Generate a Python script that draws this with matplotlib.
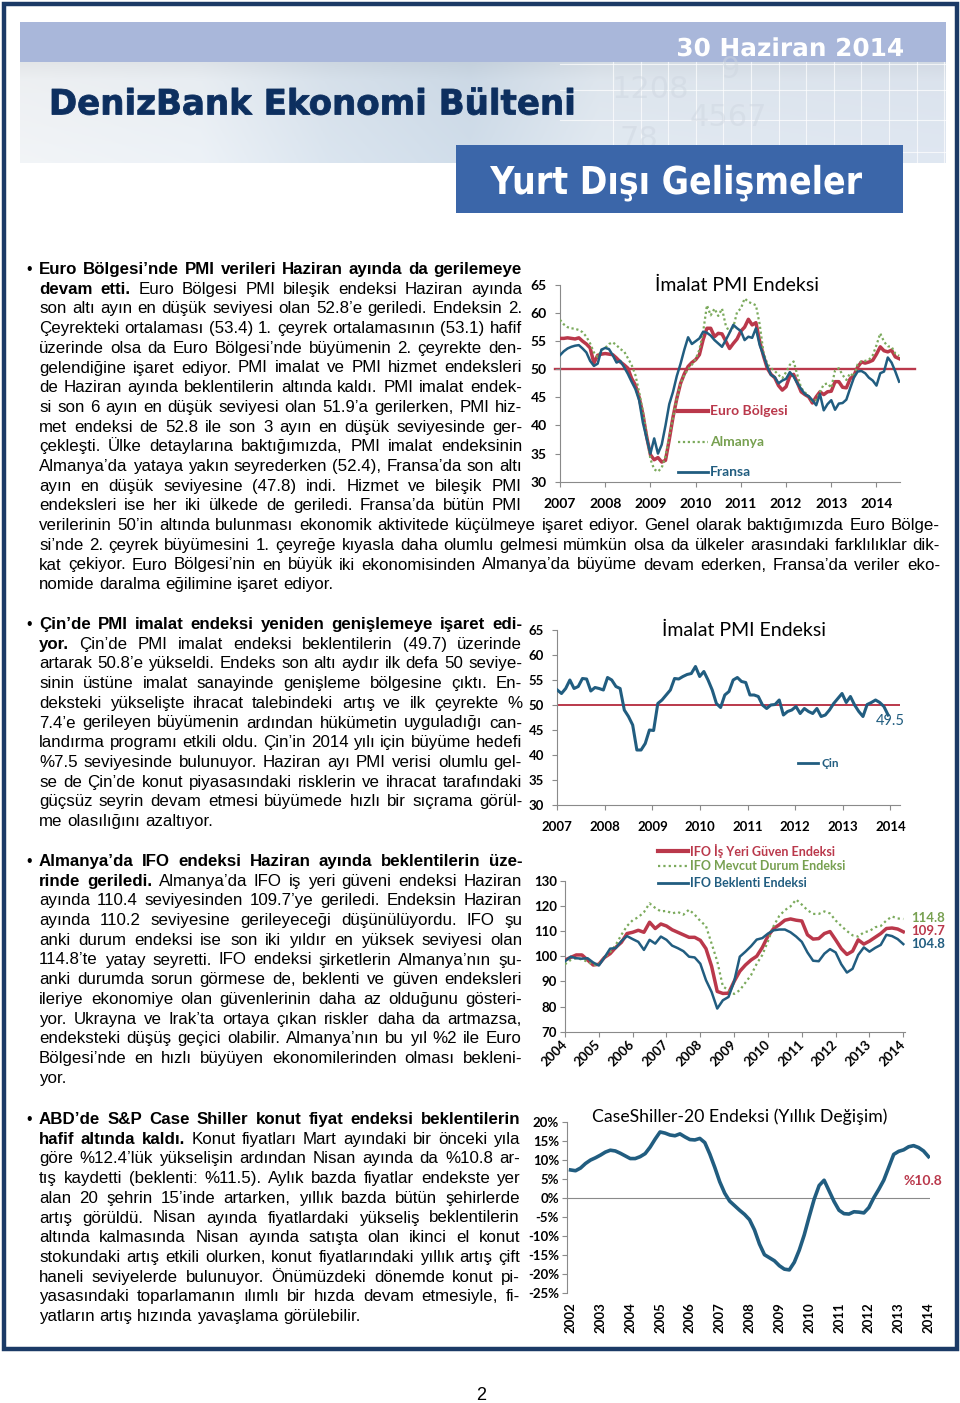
import matplotlib
matplotlib.use('Agg')
import matplotlib.pyplot as plt
import numpy as np
from matplotlib.font_manager import FontProperties
from matplotlib.textpath import TextPath
from matplotlib.patches import PathPatch, Rectangle
from matplotlib.transforms import Affine2D

# =============================================================================
# page geometry
# =============================================================================
W, H, DPI = 960, 1403, 100
BODY = 'Liberation Sans'
CHART = 'Lato'
BODY_PT = 12.2

RED = '#BA384B'
BLUE = '#215D80'
GREEN = '#7BAA5C'
NAVY = '#1B3A66'

# =============================================================================
# chart data
# =============================================================================
PMI_YEARS = list(range(2007, 2015))
PMI_EURO = [
    55.5, 55.5, 55.6, 55.5, 55.4, 55.6, 55.0, 54.5, 53.8, 51.1, 52.5, 52.7,
    52.8, 52.7, 52.6, 52.0, 51.3, 50.8, 50.2, 48.4, 47.2, 45.0, 42.0, 38.0,
    34.8, 33.9, 34.3, 33.5, 33.8, 37.5, 41.5, 44.8, 47.5, 49.2, 50.5, 51.2,
    51.7, 52.6, 55.3, 57.3, 57.3, 55.8, 56.4, 56.3, 55.0, 53.7, 54.6, 55.4,
    56.8, 57.5, 58.9, 57.9, 58.3, 55.0, 52.4, 50.2, 49.1, 48.5, 47.1, 46.3,
    46.9, 48.8, 49.1, 47.6, 46.0, 45.5, 45.1, 44.0, 45.1, 46.0, 45.5, 46.0,
    46.1, 47.8, 47.8, 46.8, 46.7, 48.3, 48.9, 50.4, 51.3, 51.1, 51.3, 51.6,
    52.7, 54.0, 53.3, 53.1, 53.4, 52.2, 51.9,
]
PMI_GERMANY = [
    58.8, 58.0, 57.5, 57.3, 57.2, 57.0, 56.6, 55.8, 54.6, 53.0, 52.2, 53.4,
    53.8, 54.5, 54.8, 54.3, 53.6, 53.2, 52.0, 50.8, 49.0, 46.0, 42.5, 38.5,
    34.0, 32.2, 31.8, 32.5, 34.5, 38.0, 41.5, 44.8, 47.5, 49.0, 50.0, 50.8,
    51.8, 53.5, 56.7, 61.4, 59.6, 60.8, 59.5, 60.8, 57.8, 56.6, 57.5, 60.2,
    60.8, 62.6, 62.0, 61.7, 61.4, 58.0, 53.0, 51.0, 50.2, 49.7, 49.0, 48.4,
    49.5, 50.8, 51.4, 49.0, 46.7, 45.9, 45.2, 44.3, 44.6, 46.0, 47.3, 47.5,
    46.7, 49.8, 50.2, 49.0, 48.1, 49.3, 48.7, 50.9, 51.4, 51.5, 51.7, 52.5,
    54.3, 56.4, 54.9, 54.1, 54.0, 52.8, 52.4,
]
PMI_FRANCE = [
    52.5, 53.2, 53.7, 54.0, 54.2, 54.3, 53.7, 53.0, 51.5, 50.6, 51.0, 53.5,
    53.8, 53.6, 52.5, 51.2, 51.5, 50.4, 49.2, 47.8, 46.5, 44.5, 40.5, 37.7,
    35.0, 37.7, 35.0, 36.6, 40.0, 43.8, 46.0, 48.8, 51.0, 53.5, 55.7, 54.5,
    55.0, 55.5, 56.7, 56.5, 56.0, 55.2, 54.6, 54.0, 55.2, 56.5, 57.9, 57.3,
    56.8, 55.2, 55.8, 55.6, 57.3, 54.3, 52.5, 50.5, 49.0, 48.6, 47.5, 48.0,
    48.3, 49.5, 48.7, 47.5, 46.5, 45.6, 45.2, 44.5, 43.6, 45.6, 42.7, 43.8,
    44.5, 42.8, 43.9, 44.0, 44.6, 46.6, 48.5, 49.6, 49.7, 49.3, 48.5, 48.0,
    47.1, 49.3, 49.6, 52.1, 51.2, 49.6, 47.8,
]
PMI_CHINA = [
    53.0, 52.3, 53.3, 55.0, 53.3, 53.7, 55.3, 55.2, 52.8, 53.5,
    53.3, 53.0, 55.5, 55.0, 53.7, 53.3, 49.0, 47.7, 46.0, 41.0,
    41.0, 42.3, 45.0, 44.9, 50.3, 51.0, 52.0, 53.0, 55.3, 55.2,
    55.7, 56.1, 56.3, 57.7, 55.7, 56.7, 55.0, 53.0, 50.3, 49.5,
    52.0, 52.7, 55.0, 55.5, 54.7, 54.5, 52.0, 52.0, 51.7, 50.0,
    49.3, 50.0, 50.1, 51.0, 48.0, 48.7, 49.0, 49.7, 48.3, 49.3,
    48.7, 48.3, 49.3, 47.7, 48.0, 49.0, 50.3, 51.3, 52.3, 50.5,
    51.7, 50.0, 48.7, 47.7, 50.1, 50.5, 51.0, 50.5, 49.7, 48.0,
]

IFO_YEARS = list(range(2004, 2015))
IFO_CLIMATE = [
    98.5, 99.5, 100.5, 100.5, 98.5, 96.5, 96.8, 99.5, 101.0, 103.5, 105.5,
    109.0, 109.5, 110.3, 109.5, 113.5, 111.0, 112.8, 112.0, 110.5, 109.5,
    108.5, 107.5, 107.5, 106.3, 103.0, 96.0, 86.0, 85.2, 85.3, 90.0,
    94.0, 96.5, 98.5, 100.0, 103.5, 108.0, 111.0, 112.5, 114.3, 114.8,
    114.3, 114.0, 108.5, 106.8, 107.0, 109.0, 109.8, 106.5, 103.0, 100.7,
    102.0, 106.5, 104.8, 106.0, 107.5, 109.0, 111.0, 111.2, 110.8, 109.7,
]
IFO_CURRENT = [
    96.8, 98.5, 99.2, 98.7, 97.8, 96.5, 96.8, 99.5, 101.5, 104.5, 108.5,
    112.0, 114.3, 115.5, 117.5, 121.0, 119.2, 117.8, 118.0, 117.0, 117.6,
    116.5, 118.5, 116.5, 114.0, 112.0, 105.0, 98.0, 88.0, 86.5, 85.0,
    86.5, 89.5, 92.5, 97.0, 100.5, 106.0, 112.0, 116.0, 118.3, 119.8,
    122.5, 120.5, 118.3, 116.8, 116.8, 117.8, 117.0, 114.2, 112.0, 110.0,
    108.3, 107.8, 109.5, 110.0, 111.5, 112.0, 114.2, 115.8, 115.0, 114.8,
]
IFO_EXPECT = [
    98.0, 99.8, 99.2, 99.0, 99.2, 97.5, 96.3, 99.5, 103.0, 103.2, 106.0,
    108.0, 106.8, 105.7, 102.5, 106.5, 105.0, 107.8, 106.5, 104.2, 103.2,
    102.0, 99.8, 99.5, 97.0, 90.5, 85.8, 79.2, 82.5, 83.8, 90.0,
    99.8, 101.8, 104.0, 106.6, 107.2, 109.0, 110.3, 110.6, 110.6, 109.5,
    107.8, 105.7, 101.5, 98.2, 98.0, 101.0, 102.8, 101.5, 96.8, 93.5,
    95.0, 100.5, 103.5, 101.8, 103.3, 104.5, 108.5, 108.0, 106.8, 104.8,
]
IFO_LAST = ['114.8', '109.7', '104.8']

CS_YEARS = list(range(2002, 2015))
CS_YOY = [
    7.3, 7.1, 7.8, 9.0, 9.9, 10.5, 11.2, 12.0, 12.5, 12.3, 11.7, 11.0,
    10.3, 10.3, 10.8, 11.6, 13.3, 15.4, 17.3, 17.0, 16.5, 16.3, 16.8, 16.0,
    15.3, 15.2, 15.6, 14.5, 11.5, 8.0, 4.2, 1.2, -0.9, -2.1, -3.3, -4.4,
    -5.8, -8.5, -12.2, -15.0, -15.8, -16.6, -17.9, -18.8, -19.0, -17.0, -13.8, -9.8,
    -5.0, -0.4, 3.2, 4.6, 1.8, -1.0, -3.3, -4.2, -4.3, -3.7, -3.8, -4.0,
    -2.6, 0.0, 2.2, 4.6, 8.0, 11.4, 12.2, 12.6, 13.4, 13.7, 13.2, 12.3,
    10.8,
]

# =============================================================================
# page texts
# =============================================================================
SEC1_BOLD = 10
SEC1 = [
    "Euro Bölgesi’nde PMI verileri Haziran ayında da gerilemeye",
    "devam etti.  Euro Bölgesi PMI bileşik endeksi Haziran ayında",
    "son altı ayın en düşük seviyesi olan 52.8’e geriledi. Endeksin 2.",
    "Çeyrekteki ortalaması (53.4) 1. çeyrek ortalamasının (53.1) hafif",
    "üzerinde olsa da Euro Bölgesi’nde büyümenin 2. çeyrekte den-",
    "gelendiğine işaret ediyor. PMI imalat ve PMI hizmet endeksleri",
    "de Haziran ayında beklentilerin altında kaldı. PMI imalat endek-",
    "si son 6 ayın en düşük seviyesi olan 51.9’a gerilerken, PMI hiz-",
    "met endeksi de 52.8 ile son 3 ayın en düşük seviyesinde ger-",
    "çekleşti. Ülke detaylarına baktığımızda, PMI imalat endeksinin",
    "Almanya’da yataya yakın seyrederken (52.4), Fransa’da son altı",
    "ayın en düşük seviyesine (47.8)  indi. Hizmet ve bileşik PMI",
    "endeksleri ise her iki ülkede de geriledi. Fransa’da bütün PMI",
    "verilerinin 50’in altında bulunması ekonomik aktivitede küçülmeye işaret ediyor. Genel olarak baktığımızda Euro Bölge-",
    "si’nde 2. çeyrek büyümesini 1. çeyreğe kıyasla daha olumlu gelmesi mümkün olsa da ülkeler arasındaki farklılıklar dik-",
    "kat çekiyor. Euro Bölgesi’nin en büyük iki ekonomisinden Almanya’da büyüme devam ederken, Fransa’da veriler eko-",
    "nomide daralma eğilimine işaret ediyor.",
]
SEC2_BOLD = 9
SEC2 = [
    "Çin’de PMI imalat endeksi yeniden genişlemeye işaret edi-",
    "yor. Çin’de PMI imalat endeksi beklentilerin (49.7) üzerinde",
    "artarak 50.8’e yükseldi. Endeks son altı aydır ilk defa 50 seviye-",
    "sinin üstüne imalat sanayinde genişleme bölgesine çıktı. En-",
    "deksteki yükselişte ihracat talebindeki artış ve ilk çeyrekte %",
    "7.4’e gerileyen büyümenin ardından hükümetin uyguladığı can-",
    "landırma programı etkili oldu. Çin’in 2014 yılı için büyüme hedefi",
    "%7.5 seviyesinde bulunuyor.  Haziran ayı PMI verisi olumlu gel-",
    "se de Çin’de konut piyasasındaki risklerin ve ihracat tarafındaki",
    "güçsüz seyrin devam etmesi büyümede hızlı bir sıçrama görül-",
    "me olasılığını azaltıyor.",
]
SEC3_BOLD = 9
SEC3 = [
    "Almanya’da IFO endeksi Haziran ayında beklentilerin üze-",
    "rinde geriledi.  Almanya’da IFO iş yeri güveni endeksi Haziran",
    "ayında 110.4 seviyesinden 109.7’ye geriledi.  Endeksin Haziran",
    "ayında 110.2 seviyesine gerileyeceği düşünülüyordu. IFO şu",
    "anki durum endeksi ise son iki yıldır en yüksek seviyesi olan",
    "114.8’te yatay seyretti. IFO endeksi şirketlerin Almanya’nın şu-",
    "anki durumda sorun görmese de, beklenti ve güven endeksleri",
    "ileriye ekonomiye olan güvenlerinin daha az olduğunu gösteri-",
    "yor. Ukrayna ve Irak’ta ortaya çıkan riskler daha da artmazsa,",
    "endeksteki düşüş geçici olabilir. Almanya’nın bu yıl %2 ile Euro",
    "Bölgesi’nde en hızlı büyüyen ekonomilerinden olması bekleni-",
    "yor.",
]
SEC4_BOLD = 11
SEC4 = [
    "ABD’de S&P Case Shiller konut fiyat endeksi beklentilerin",
    "hafif altında kaldı.  Konut fiyatları Mart ayındaki bir önceki yıla",
    "göre %12.4’lük yükselişin ardından Nisan ayında da %10.8 ar-",
    "tış kaydetti (beklenti: %11.5). Aylık bazda fiyatlar endekste yer",
    "alan 20 şehrin 15’inde artarken, yıllık bazda bütün şehirlerde",
    "artış görüldü. Nisan ayında fiyatlardaki yükseliş beklentilerin",
    "altında kalmasında Nisan ayında satışta olan ikinci el konut",
    "stokundaki artış etkili olurken, konut fiyatlarındaki yıllık artış çift",
    "haneli seviyelerde bulunuyor. Önümüzdeki dönemde konut pi-",
    "yasasındaki toparlamanın ılımlı bir hızda devam etmesiyle, fi-",
    "yatların artış hızında yavaşlama görülebilir.",
]

# =============================================================================
# figure
# =============================================================================
fig = plt.figure(figsize=(W / DPI, H / DPI), dpi=DPI)
page = fig.add_axes([0, 0, 1, 1])
page.axis('off')
renderer = fig.canvas.get_renderer()


def px_width(s, fp):
    return renderer.get_text_width_height_descent(s, fp, ismath=False)[0]


def fit_path(s, x0, x1, base, cap, color, family='DejaVu Sans', stroke=0.0):
    fp = FontProperties(family=family, weight='bold')
    tp = TextPath((0, 0), s, size=100, prop=fp)
    bb = tp.get_extents()
    hcap = TextPath((0, 0), 'H', size=100, prop=fp).get_extents().height
    tr = Affine2D().translate(-bb.x0, 0).scale((x1 - x0) / bb.width, -cap / hcap).translate(x0, base)
    page.add_patch(PathPatch(tr.transform_path(tp), fc=color, ec=color if stroke else 'none',
                             lw=stroke, zorder=5))


def paragraph(lines, n_bold, y0, narrow_right, wide_from=None, x0=39, step=19.7):
    page.text(29, y0 + 5, '•', fontproperties=FontProperties(family=BODY, size=BODY_PT - 1),
              ha='center', va='baseline')
    k = 0
    for j, line in enumerate(lines):
        words = line.split()
        bold = []
        for _ in words:
            bold.append(k < n_bold)
            k += 1
        right = narrow_right if (wide_from is None or j < wide_from) else 940
        last = j == len(lines) - 1
        size = BODY_PT
        while True:
            f_reg = FontProperties(family=BODY, size=size)
            f_bold = FontProperties(family=BODY, size=size, weight='bold')
            space = px_width('a a', f_reg) - px_width('aa', f_reg)
            props = [f_bold if b else f_reg for b in bold]
            widths = [px_width(w, p) for w, p in zip(words, props)]
            need = sum(widths) + 0.75 * space * (len(words) - 1)
            if last or need <= right - x0 or size < 9:
                break
            size -= 0.2
        if not last and len(words) > 1:
            gap = (right - x0 - sum(widths)) / (len(words) - 1)
        else:
            gap = space
        x = x0
        y = y0 + j * step + 5
        for w, p, wd in zip(words, props, widths):
            page.text(x, y, w, fontproperties=p, ha='left', va='baseline', color='black')
            x += wd + gap


def chart_axes(left, right, top, bottom):
    ax = fig.add_axes([left / W, 1 - bottom / H, (right - left) / W, (bottom - top) / H])
    ax.patch.set_alpha(0)
    for s in ['top', 'right']:
        ax.spines[s].set_visible(False)
    for s in ['left', 'bottom']:
        ax.spines[s].set_color('#8a8a8a')
        ax.spines[s].set_linewidth(0.8)
    ax.tick_params(direction='out', length=3.5, width=0.8, color='#8a8a8a')
    return ax


def tick_font(size):
    return FontProperties(family=CHART, weight='bold', size=size)


# ---------------------------------------------------------------- header
page.add_patch(Rectangle((20, 22), 926, 40, fc='#A9B7DA', ec='none', zorder=1))
hx = np.linspace(20, 946, 480)
hy = np.linspace(62, 163, 60)
stops = [20, 200, 330, 470, 600, 946]
cols = np.array([[0.93, 0.94, 0.95], [0.91, 0.93, 0.95], [0.84, 0.88, 0.92],
                 [0.80, 0.85, 0.90], [0.87, 0.90, 0.93], [0.86, 0.89, 0.93]])
base = np.stack([np.interp(hx, stops, cols[:, c]) for c in range(3)], axis=-1)
shade = np.interp(hy, [62, 80, 163], [0.96, 1.0, 1.02])
img = np.clip(base[None, :, :] * shade[:, None, None], 0, 1)
page.imshow(img, extent=(20, 946, 163, 62), aspect='auto', zorder=0)
for gx in np.arange(613, 946, 27.6):
    page.plot([gx, gx], [62, 163], color='white', lw=0.8, alpha=0.7, zorder=1)
for gy in [64, 90, 120, 152]:
    page.plot([560, 946], [gy, gy], color='white', lw=0.8, alpha=0.7, zorder=1)
for txt, tx, ty in [('1208', 612, 90), ('9', 720, 70), ('4567', 690, 118), ('78', 620, 140)]:
    page.text(tx, ty, txt, fontsize=22, color='#CDD5DF', alpha=0.45, zorder=1,
              va='center', family='DejaVu Sans')
page.add_patch(Rectangle((456, 145), 447, 68, fc='#3B66A9', ec='none', zorder=3))
fit_path('30 Haziran 2014', 678, 903, 56, 18, 'white')
fit_path('DenizBank Ekonomi Bülteni', 52, 573, 114.5, 25.5, '#0D2F5F', stroke=0.6)
fit_path('Yurt Dışı Gelişmeler', 490, 862, 194, 28, 'white')

# ---------------------------------------------------------------- frame
page.add_patch(Rectangle((3.5, 3.5), 953, 1345, fc='none', ec=NAVY, lw=3.2, zorder=6))
page.text(481, 1395, '2', fontproperties=FontProperties(family=BODY, size=13), ha='center', va='center')

# ---------------------------------------------------------------- body text
paragraph(SEC1, SEC1_BOLD, 269, 522, wide_from=13)
paragraph(SEC2, SEC2_BOLD, 624, 522)
paragraph(SEC3, SEC3_BOLD, 861, 522)
paragraph(SEC4, SEC4_BOLD, 1119, 520)

# ---------------------------------------------------------------- chart 1
ax1 = chart_axes(560, 900, 285, 481.7)
t1 = [2007 + i / 12 for i in range(len(PMI_EURO))]
ax1.axhline(50, xmin=-0.015, xmax=1.045, color=RED, lw=1.7, clip_on=False, zorder=1)
ax1.plot(t1, PMI_EURO, color=RED, lw=2.5, zorder=3)
ax1.plot(t1, PMI_GERMANY, color=GREEN, lw=1.6, ls=(0, (1, 1.2)), zorder=4)
ax1.plot(t1, PMI_FRANCE, color=BLUE, lw=1.8, zorder=5)
ax1.set_xlim(2007, 2014.52)
ax1.set_ylim(30, 65)
ax1.set_yticks(range(30, 66, 5))
ax1.set_yticklabels([str(v) for v in range(30, 66, 5)], fontproperties=tick_font(10))
ax1.set_xticks(PMI_YEARS)
ax1.set_xticklabels([str(y) for y in PMI_YEARS], fontproperties=tick_font(10))
ax1.tick_params(axis='y', pad=6)
ax1.tick_params(axis='x', pad=8)
ax1.text(0.52, 1.0, 'İmalat PMI Endeksi', transform=ax1.transAxes, ha='center', va='center',
         fontproperties=FontProperties(family=CHART, size=14))
leg_fp = FontProperties(family=CHART, weight='bold', size=10)
page.plot([678, 708], [410.7, 410.7], color=RED, lw=3)
page.text(710, 410.7, 'Euro Bölgesi', color=RED, fontproperties=leg_fp, va='center')
page.plot([678, 708], [441.7, 441.7], color=GREEN, lw=1.6, ls=(0, (1, 1.2)))
page.text(710, 441.7, 'Almanya', color='#77A050', fontproperties=leg_fp, va='center')
page.plot([678, 708], [472.3, 472.3], color=BLUE, lw=2)
page.text(710, 472.3, 'Fransa', color=BLUE, fontproperties=leg_fp, va='center')

# ---------------------------------------------------------------- chart 2
ax2 = chart_axes(557.3, 900, 630, 805)
t2 = np.linspace(2007, 2013.95, len(PMI_CHINA))
ax2.axhline(50, color=RED, lw=1.4, zorder=1)
ax2.plot(t2, PMI_CHINA, color=BLUE, lw=2.2, zorder=3)
ax2.set_xlim(2007, 2014.2)
ax2.set_ylim(30, 65)
ax2.set_yticks(range(30, 66, 5))
ax2.set_yticklabels([str(v) for v in range(30, 66, 5)], fontproperties=tick_font(9.5))
ax2.set_xticks(PMI_YEARS)
ax2.set_xticklabels([str(y) for y in PMI_YEARS], fontproperties=tick_font(9.5))
ax2.tick_params(axis='y', pad=6)
ax2.tick_params(axis='x', pad=8)
ax2.text(0.545, 1.0, 'İmalat PMI Endeksi', transform=ax2.transAxes, ha='center', va='center',
         fontproperties=FontProperties(family=CHART, size=14))
page.text(890, 721, '49.5', color=BLUE, ha='center', va='center',
          fontproperties=FontProperties(family=CHART, size=10.5))
page.plot([798, 818], [763.3, 763.3], color=BLUE, lw=2)
page.text(821, 763.3, 'Çin', color=BLUE, va='center',
          fontproperties=FontProperties(family=CHART, weight='bold', size=8.5))

# ---------------------------------------------------------------- chart 3
ax3 = chart_axes(565, 905, 880.7, 1031.7)
t3 = [2004 + i / 6 for i in range(len(IFO_CLIMATE))]
ax3.plot(t3, IFO_CLIMATE, color=RED, lw=2.5, zorder=3)
ax3.plot(t3, IFO_CURRENT, color=GREEN, lw=1.6, ls=(0, (1, 1.4)), zorder=4)
ax3.plot(t3, IFO_EXPECT, color=BLUE, lw=1.8, zorder=5)
ax3.set_xlim(2004, 2014.05)
ax3.set_ylim(70, 130)
ax3.set_yticks(range(70, 131, 10))
ax3.set_yticklabels([str(v) for v in range(70, 131, 10)], fontproperties=tick_font(9.5))
ax3.set_xticks(IFO_YEARS)
ax3.set_xticklabels([str(y) for y in IFO_YEARS], fontproperties=tick_font(9.5),
                    rotation=45, ha='right', va='center', rotation_mode='anchor')
ax3.tick_params(axis='y', pad=2)
ax3.tick_params(axis='x', pad=4)
leg3 = FontProperties(family=CHART, weight='bold', size=9)
page.plot([658, 688], [851, 851], color=RED, lw=3)
page.text(690, 851, 'IFO İş Yeri Güven Endeksi', color=RED, fontproperties=leg3, va='center')
page.plot([658, 688], [866, 866], color=GREEN, lw=1.6, ls=(0, (1, 1.4)))
page.text(690, 866, 'IFO Mevcut Durum Endeksi', color='#77A050', fontproperties=leg3, va='center')
page.plot([658, 688], [882.7, 882.7], color=BLUE, lw=2)
page.text(690, 882.7, 'IFO Beklenti Endeksi', color=BLUE, fontproperties=leg3, va='center')
lab3 = FontProperties(family=CHART, weight='bold', size=9.5)
for txt, col, yy in zip(IFO_LAST, ['#77A050', RED, BLUE], [918, 931, 944]):
    page.text(911, yy, txt, color=col, fontproperties=lab3, va='center')

# ---------------------------------------------------------------- chart 4
ax4 = chart_axes(566.7, 930, 1121.7, 1292.7)
t4 = [2002 + i / 6 for i in range(len(CS_YOY))]
ax4.spines['bottom'].set_visible(False)
ax4.axhline(0, color='#8a8a8a', lw=0.8, zorder=1)
ax4.plot(t4, CS_YOY, color=BLUE, lw=2.6, zorder=3)
ax4.set_xlim(2001.87, 2014.05)
ax4.set_ylim(-25, 20)
ax4.set_yticks(range(-25, 21, 5))
ax4.set_yticklabels([f'{v}%' for v in range(-25, 21, 5)], fontproperties=tick_font(9.5))
ax4.set_xticks(CS_YEARS)
ax4.set_xticklabels([str(y) for y in CS_YEARS], fontproperties=tick_font(9.5), rotation=90)
ax4.tick_params(axis='x', length=0, pad=7)
ax4.tick_params(axis='y', pad=2)
ax4.text(0.475, 1.03, 'CaseShiller-20 Endeksi (Yıllık Değişim)', transform=ax4.transAxes,
         ha='center', va='center', fontproperties=FontProperties(family=CHART, size=12.7))
page.text(923, 1181, '%10.8', color=RED, ha='center', va='center',
          fontproperties=FontProperties(family=CHART, weight='bold', size=10))

page.set_xlim(0, W)
page.set_ylim(H, 0)
fig.savefig('out.png', dpi=DPI, facecolor='white')
